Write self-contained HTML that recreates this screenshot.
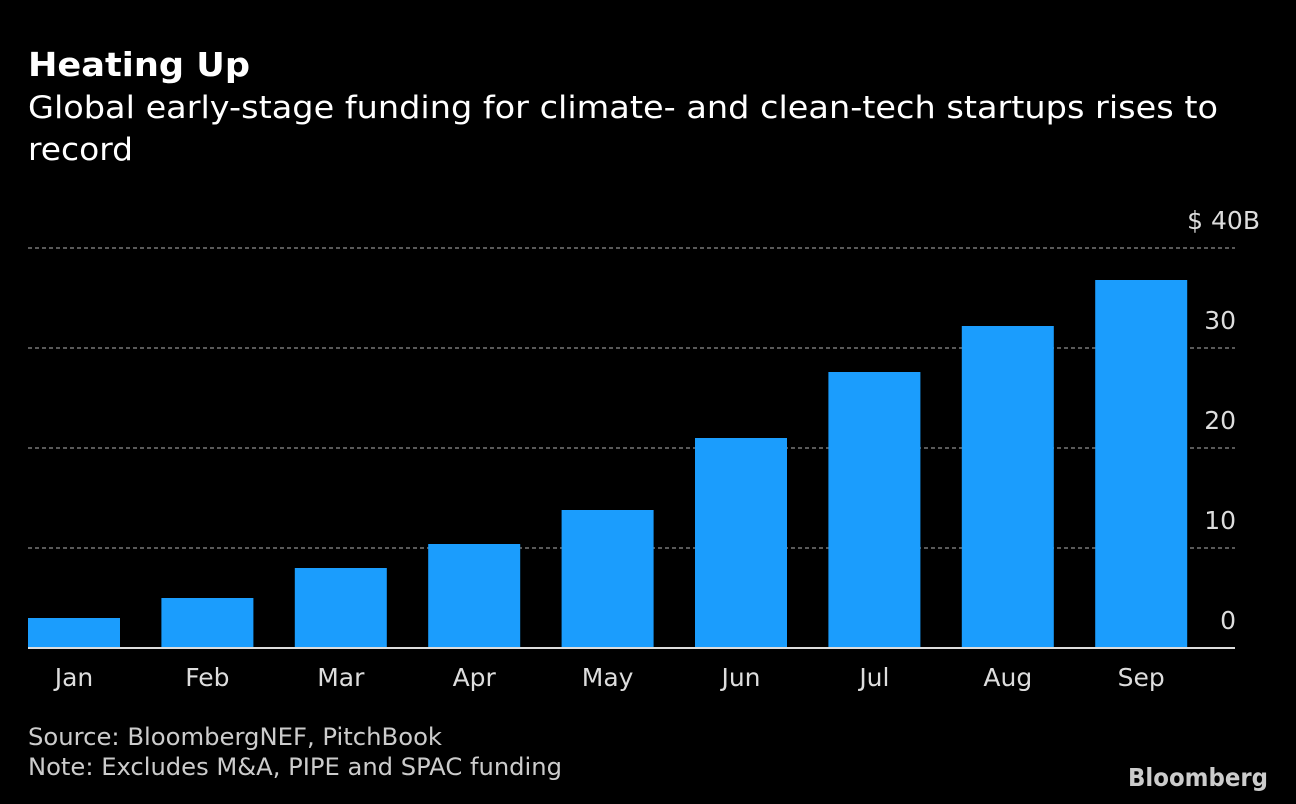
<!DOCTYPE html>
<html><head><meta charset="utf-8"><style>
html,body{margin:0;padding:0;background:#000;}
svg{display:block;}
text{font-family:"DejaVu Sans","Liberation Sans",sans-serif;}
</style></head><body>
<svg id="chart" width="1296" height="804" viewBox="0 0 1296 804">
<rect width="1296" height="804" fill="#000"/>
<text x="28" y="76" fill="#fff" font-size="33" font-weight="bold" textLength="222" lengthAdjust="spacingAndGlyphs">Heating Up</text>
<text x="28" y="118" fill="#fff" font-size="31" textLength="1190" lengthAdjust="spacingAndGlyphs">Global early-stage funding for climate- and clean-tech startups rises to</text>
<text x="28" y="160" fill="#fff" font-size="31" textLength="105" lengthAdjust="spacingAndGlyphs">record</text>
<g id="grid"></g>
<g id="bars"></g>
<g id="labels"></g>
<line x1="28" y1="648" x2="1235" y2="648" stroke="#ddd" stroke-width="2"/>
<text x="28" y="745" fill="#ccc" font-size="24" textLength="414" lengthAdjust="spacingAndGlyphs">Source: BloombergNEF, PitchBook</text>
<text x="28" y="775" fill="#ccc" font-size="24" textLength="534" lengthAdjust="spacingAndGlyphs">Note: Excludes M&amp;A, PIPE and SPAC funding</text>
<text x="1268" y="786" fill="#ccc" font-size="25" font-weight="bold" text-anchor="end" textLength="140" lengthAdjust="spacingAndGlyphs">Bloomberg</text>
</svg>
<script>
const categories = ["Jan","Feb","Mar","Apr","May","Jun","Jul","Aug","Sep"];
const values = [3.0,5.0,8.0,10.4,13.8,21.0,27.6,32.2,36.8];
const ticks = [0,10,20,30,40];
const tickLabels = ["0","10","20","30","$ 40B"];
const NS="http://www.w3.org/2000/svg";
const y0=648, yTop=248, vMax=40;
function yScale(v){return y0-(v/vMax)*(y0-yTop);}
const step=133.4, left=28, bw=92;
function xScale(i){return left+i*step;}
const grid=document.getElementById('grid');
ticks.forEach((t,i)=>{
  if(t!==0){
    const l=document.createElementNS(NS,'line');
    l.setAttribute('x1',28);l.setAttribute('x2',1235);
    l.setAttribute('y1',yScale(t));l.setAttribute('y2',yScale(t));
    l.setAttribute('stroke','#777');l.setAttribute('stroke-width','1.5');l.setAttribute('stroke-dasharray','4 3');
    
    
    grid.appendChild(l);
  }
  const tx=document.createElementNS(NS,'text');
  tx.setAttribute('x', t===40?1260:1236);
  tx.setAttribute('y', yScale(t)-19);
  tx.setAttribute('fill','#ddd');tx.setAttribute('font-size','25');tx.setAttribute('text-anchor','end');
  tx.textContent=tickLabels[i];
  
  
  grid.appendChild(tx);
});
const bars=document.getElementById('bars'), labels=document.getElementById('labels');
categories.forEach((c,i)=>{
  const r=document.createElementNS(NS,'rect');
  const x=xScale(i), y=yScale(values[i]);
  r.setAttribute('x',x);r.setAttribute('y',y);r.setAttribute('width',bw);r.setAttribute('height',y0-y);
  r.setAttribute('fill','#1b9dfd');
  
  
  bars.appendChild(r);
  const t=document.createElementNS(NS,'text');
  t.setAttribute('x',x+bw/2);t.setAttribute('y',686);
  t.setAttribute('fill','#ddd');t.setAttribute('font-size','25');t.setAttribute('text-anchor','middle');
  t.textContent=c;
  
  
  labels.appendChild(t);
});
</script>
</body></html>
